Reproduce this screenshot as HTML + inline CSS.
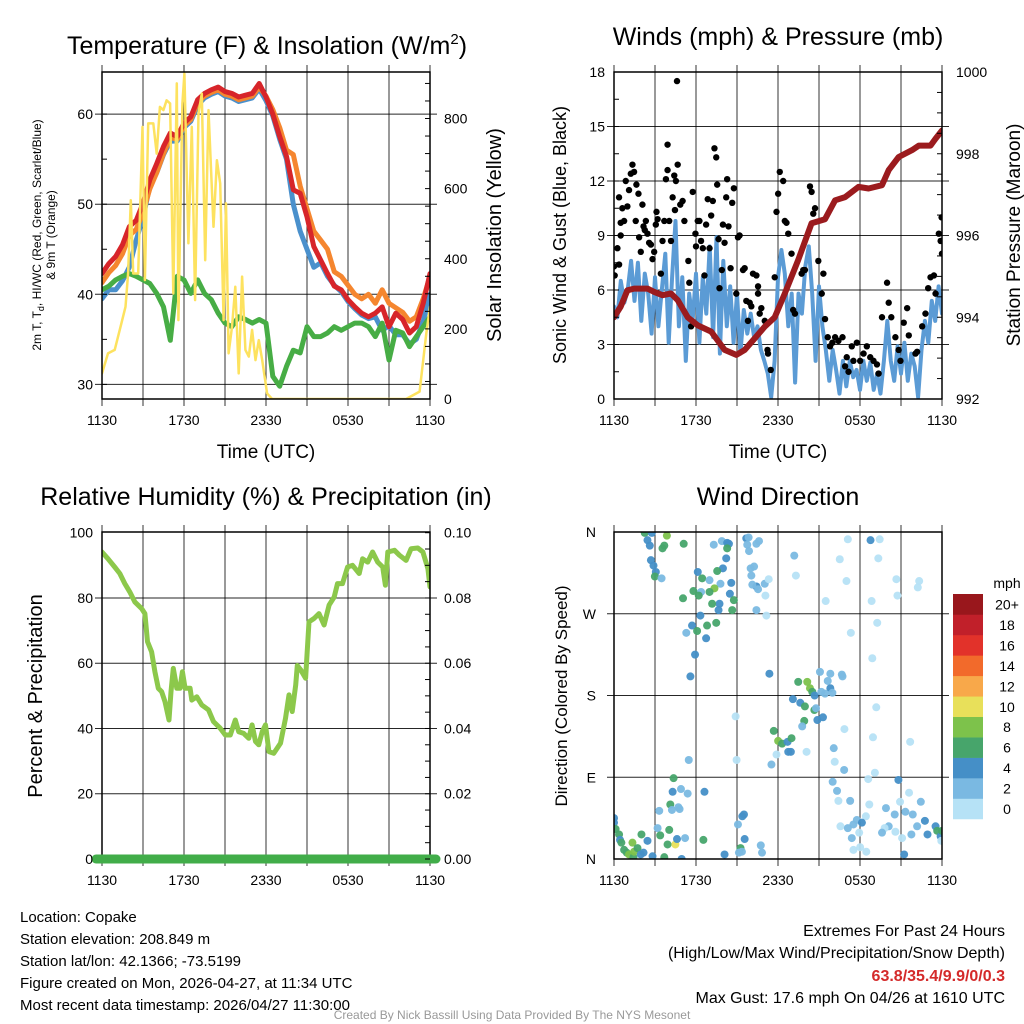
<!DOCTYPE html>
<html><head><meta charset="utf-8"><style>
html,body{margin:0;padding:0;background:#fff;}
svg{display:block;font-family:"Liberation Sans",sans-serif;}
</style></head><body>
<svg id="chart" width="1024" height="1024" viewBox="0 0 1024 1024" xmlns="http://www.w3.org/2000/svg">
<rect width="1024" height="1024" fill="#fff"/>
<g font-size="25" text-anchor="middle" fill="#000">
<text x="267" y="54">Temperature (F) &amp; Insolation (W/m<tspan dy="-10" font-size="15">2</tspan><tspan dy="10">)</tspan></text>
<text x="778" y="45">Winds (mph) &amp; Pressure (mb)</text>
<text x="266" y="505">Relative Humidity (%) &amp; Precipitation (in)</text>
<text x="778" y="505">Wind Direction</text>
</g>
<g font-size="19" text-anchor="middle">
<text x="266" y="458">Time (UTC)</text>
<text x="778" y="458">Time (UTC)</text>
</g>
<text font-size="12" text-anchor="middle" transform="translate(41,235) rotate(-90)">2m T, T<tspan dy="3" font-size="9">d</tspan><tspan dy="-3">, HI/WC (Red, Green, Scarlet/Blue)</tspan></text>
<text font-size="12" text-anchor="middle" transform="translate(55,235) rotate(-90)">&amp; 9m T (Orange)</text>
<text font-size="20" text-anchor="middle" transform="translate(501,235) rotate(-90)">Solar Insolation (Yellow)</text>
<text font-size="18" text-anchor="middle" transform="translate(566,235) rotate(-90)">Sonic Wind &amp; Gust (Blue, Black)</text>
<text font-size="19" text-anchor="middle" transform="translate(1020,235) rotate(-90)">Station Pressure (Maroon)</text>
<text font-size="20" text-anchor="middle" transform="translate(42,696) rotate(-90)">Percent &amp; Precipitation</text>
<text font-size="17" text-anchor="middle" transform="translate(567,696) rotate(-90)">Direction (Colored By Speed)</text>
<g font-size="15" fill="#000">
<text x="20" y="922">Location: Copake</text>
<text x="20" y="944">Station elevation: 208.849 m</text>
<text x="20" y="966">Station lat/lon: 42.1366; -73.5199</text>
<text x="20" y="988">Figure created on Mon, 2026-04-27, at 11:34 UTC</text>
<text x="20" y="1010">Most recent data timestamp: 2026/04/27 11:30:00</text>
</g>
<g font-size="16" text-anchor="end">
<text x="1005" y="936">Extremes For Past 24 Hours</text>
<text x="1005" y="958">(High/Low/Max Wind/Precipitation/Snow Depth)</text>
<text x="1005" y="981" fill="#d42a2a" font-weight="bold">63.8/35.4/9.9/0/0.3</text>
<text x="1005" y="1003">Max Gust: 17.6 mph On 04/26 at 1610 UTC</text>
</g>
<text x="512" y="1019" font-size="12" fill="#999" text-anchor="middle">Created By Nick Bassill Using Data Provided By The NYS Mesonet</text>
</svg>
<script>
// ---------- data ----------
const tempHours = [0,0.5,1,1.5,2,2.5,3,3.5,4,4.5,5,5.5,6,6.5,7,7.5,8,8.5,9,9.5,10,10.5,11,11.5,12,12.5,13,13.5,14,14.5,15,15.5,16,16.5,17,17.5,18,18.5,19,19.5,20,20.5,21,21.5,22,22.5,23,23.5,24];
const temp2m = [42.3,43.4,44.2,45.5,47.5,48.2,50.1,52.7,54.5,56.4,57.9,57.5,59,59.7,61.6,62.3,62.7,63,62.5,62.3,61.9,62.1,62.3,63.4,61.9,60,57.5,55.3,51.6,51.2,48.6,45.3,43.8,42.3,40.9,40.5,39.4,38.6,37.9,37.5,37.9,38.6,36.4,37.9,37.2,35.7,36.4,39,42.3];
const temp9m = [41.3,42.4,43.2,44.5,46.5,47.2,49.1,51.7,53.5,55.6,57.4,57.2,58.7,59.4,61.3,62,62.4,62.7,62.2,62,61.6,61.8,62,63,62,60.5,58.5,56,55.5,52,49.5,47,46,45,42.5,42,41,40,39.5,40,39,40.5,39,38.5,38,37,37.5,39.5,42];
const heatIndex = [39.5,40.5,40.5,41.5,43,46,48.5,52,53.5,55.5,57,57,58.5,59.2,61,61.8,62.2,62.5,62,61.8,61.4,61.6,61.8,62.8,61.5,59.8,57.2,55,50,47,45,43,43.5,42,41,40.3,39.2,38.4,37.7,37.3,37.5,36,36.5,35.5,35.5,34.5,35,37,40];
const dewPoint = [40.5,40.9,41.6,42,42.3,42,41.6,41.2,40.1,38.6,34.9,42,41.6,40.1,41.6,40.1,39.4,37.9,36.8,36.4,37.5,37.2,36.8,37.2,36.8,30.9,29.8,32,33.8,33.5,36.4,35.3,35.3,35.7,36.4,36,36.4,36.8,36.8,36.4,35.3,36.8,32.7,36,35.7,34.2,35.3,36.4,37.5];
const solarHours = [0,0.44,0.93,1.42,1.72,1.91,2.11,2.28,2.65,2.96,3.14,3.38,3.75,4,4.24,4.49,4.73,4.98,5.22,5.47,5.59,5.88,6.03,6.32,6.57,6.81,7.06,7.3,7.55,7.79,8.16,8.41,8.65,8.9,9.07,9.26,9.51,9.75,10,10.25,10.49,10.74,10.98,11.23,11.47,11.72,12.08,12.45,22.25,23.24,23.73,24];
const solarValues = [73,130,140,216,263,358,567,358,358,776,339,786,786,700,833,824,852,843,301,900,225,843,928,444,776,282,814,871,396,824,491,681,615,225,558,130,206,320,73,349,140,121,197,111,168,111,16,0,0,21,187,263];
const windHours = [0,0.25,0.5,0.75,1,1.25,1.5,1.75,2,2.25,2.5,2.75,3,3.25,3.5,3.75,4,4.25,4.5,4.75,5,5.25,5.5,5.75,6,6.25,6.5,6.75,7,7.25,7.5,7.75,8,8.25,8.5,8.75,9,9.25,9.5,9.75,10,10.25,10.5,10.75,11,11.25,11.5,11.75,12,12.25,12.5,12.75,13,13.25,13.5,13.75,14,14.25,14.5,14.75,15,15.25,15.5,15.75,16,16.25,16.5,16.75,17,17.25,17.5,17.75,18,18.25,18.5,18.75,19,19.25,19.5,19.75,20,20.25,20.5,20.75,21,21.25,21.5,21.75,22,22.25,22.5,22.75,23,23.25,23.5,23.75,24];
const windSpeed = [5.1,4.5,6.5,5.3,6,7.6,5.4,7.5,4.3,6.9,5.8,3.6,6.7,4,6,8,3.1,6.7,9.8,4,6.7,2.1,5.8,4.3,6.9,3.1,6.7,4.7,8.4,3.4,8.9,2.5,7.6,4,6.2,3.1,5.8,2.5,4.9,3.6,4.7,3.4,4,2.7,2.1,1.4,0.1,2.1,6.7,8.2,6.9,4,5.8,0.9,5.8,4.7,7.3,8.4,5.8,2.1,6.2,4,2.7,1,2.7,1.6,0.3,2.1,0.7,2.1,1.2,1.6,0.5,2.1,1,2,0.5,1.4,0.3,2.1,4.3,2.1,1,2.9,1.4,3.1,1,2.5,1.8,0.1,2.7,4.3,3.1,5.4,4.3,6.2,4.7];
const gustHours = [0,0.05,0.25,0.37,0.37,0.49,0.49,0.61,0.74,0.86,0.98,1.1,1.23,1.35,1.47,1.59,1.64,1.79,1.84,1.96,2.08,2.16,2.25,2.33,2.45,2.57,2.7,2.82,2.94,3.06,3.11,3.19,3.43,3.55,3.68,3.8,3.92,3.92,4.04,4.17,4.29,4.41,4.46,4.53,4.66,4.85,5.02,5.15,5.44,5.51,5.64,5.76,5.96,6,6.13,6.25,6.37,6.5,6.62,6.74,6.86,6.99,7.11,7.23,7.35,7.48,7.55,7.65,7.72,7.89,7.97,8.09,8.21,8.28,8.38,8.53,8.65,8.77,8.95,9.07,9.19,9.44,9.56,9.68,9.8,9.93,10.05,10.17,10.42,10.54,10.54,10.66,10.78,11.03,11.23,11.27,11.47,11.76,11.89,12.01,12.13,12.38,12.5,12.62,12.75,12.99,13.11,13.24,13.73,13.85,13.97,14.34,14.46,14.58,14.71,14.95,15.2,15.32,15.44,15.64,15.81,15.98,16.18,16.42,16.72,16.91,17.03,17.16,17.4,17.52,17.77,18.01,18.26,18.5,18.75,18.99,19.24,19.36,19.61,19.98,20.1,20.29,20.59,20.83,20.96,21.2,21.45,21.57,22.06,22.18,22.55,22.79,22.99,23.16,23.41,23.53,23.77,23.9,23.97,24,4.61];
const gustSpeed = [7.3,6.8,8.3,7.4,11.1,9,9.7,10.5,9.8,12,10.6,11.5,12.4,12.9,12.5,9.8,11.8,11.3,8.9,8.1,10.7,9.5,9.3,9.8,9.1,8.6,8.5,7.7,8.1,9.6,10.3,9.9,6.9,8.7,9.8,12.1,12.6,14,9.8,8.7,11.1,12.3,10.4,12,12.9,10.7,10.9,9.8,7.6,6.4,4,11.4,9.1,8.4,9.8,9.8,8.7,8.3,6.8,9.6,11,8.3,10.1,10.9,13.8,13.3,11.8,8.8,6.1,7.1,9.6,8.6,11.1,12.1,9.5,7.2,10.8,11.6,5.8,8.9,9,7.1,7.2,5.4,4.3,5.3,5.1,6.9,6.8,6.2,5.8,4.7,5,4.3,2.7,2.5,1.6,6.7,10.3,11.3,12.5,12,9.8,9.7,9.1,8,4.9,4.7,6.9,7.1,7.1,11.7,11.4,10.2,10.5,7.6,5.8,6.9,4.4,3.4,2.9,3.1,3.4,3.2,3.4,1.8,2.3,1.5,2.9,2.1,3.1,2.1,2.5,2.9,2.3,2.1,1.9,1.4,4.5,6.4,5.3,4.5,3.4,2.7,2.1,4.2,5,3.5,2.5,2.6,4,4.7,6.1,6.7,6.8,5.8,9.1,8.7,10,8,17.5];
const pressureHours = [0,0.49,0.98,1.47,2.45,2.94,3.55,4.17,4.66,5.39,6.13,7.11,8.09,8.95,9.56,10.29,11.03,11.76,12.5,13.48,14.46,15.44,16.18,16.91,17.89,18.63,19.61,20.1,20.83,21.81,22.3,23.16,23.53,24];
const pressureMb = [994,994.26,994.66,994.7,994.7,994.62,994.54,994.58,994.42,994,993.8,993.65,993.2,993.08,993.2,993.48,993.77,994,994.58,995.4,996.3,996.4,996.86,996.94,997.19,997.15,997.23,997.6,997.92,998.09,998.2,998.2,998.37,998.57];
const rhHours = [0,0.44,0.93,1.3,1.67,2.03,2.4,2.89,3.14,3.33,3.63,3.87,4.12,4.36,4.61,4.9,5.05,5.22,5.47,5.71,5.88,6.08,6.45,6.57,6.94,7.3,7.79,8.16,8.65,9.02,9.39,9.75,10,10.37,10.74,10.98,11.23,11.47,11.72,11.96,12.21,12.57,13.06,13.43,13.68,13.92,14.17,14.29,14.53,14.9,15.15,15.51,15.88,16.25,16.62,16.99,17.23,17.6,17.97,18.33,18.82,19.07,19.44,19.8,20.17,20.54,20.74,20.91,21.4,21.76,22.25,22.62,23.11,23.48,23.85,24];
const rhValues = [94.1,92,89.5,87.5,84.4,81.9,78.8,76.8,75.2,66.6,63.5,57.4,52.3,51.3,48.2,42.6,51.3,58.4,52.3,52.3,57.4,52.3,52.3,48.7,49.7,47.2,45.7,42.1,40.1,38,38,42.6,39,38.5,37,41.1,36,35,39,41.1,32.9,32.4,35.5,43.1,50.3,45.2,53.3,59.3,58,55.4,72.7,73.7,75.2,71.7,77.8,80.3,84.4,84.4,89.5,90,87.5,92,91,94.1,91,89.5,83.9,94.1,94.6,93.1,91.5,95.1,95.3,94.1,89,83.4];
const precipHours = [0,24];
const precipValues = [0,0];
const dirHours = [2.25,2.77,2.45,2.62,3.87,3.68,3.55,5.1,2.7,2.89,3.06,2.99,3.48,7.3,7.89,8.28,8.41,8.28,8.21,7.97,7.55,6.13,6.45,6.99,7.79,8.58,7.35,6.99,6.37,5.81,6.2,5.05,8.48,8.77,7.72,7.18,7.65,8.65,6.32,5.71,7.48,6.81,6.08,5.29,6.74,5.93,5.59,
9.68,9.85,9.75,10.42,10.61,9.88,10,10.25,10.05,10.42,10.12,10.54,11.03,11.32,11.08,10.42,11.15,13.19,13.31,17.11,18.77,19.44,16.52,19.34,17.01,15.49,20.66,22.33,22.23,20.74,18.85,19.26,17.33,18.9,
11.37,15.07,15.83,16.67,16.72,13.48,14.14,14.34,14.51,14.68,15.17,15.64,15.83,15.44,15.98,13.09,13.63,13.97,14.66,14.78,15.29,14.88,13.92,13.77,8.9,19.19,16.86,18.95,21.67,11.69,12.01,12.3,12.7,12.99,12.75,12.94,11.89,14.09,11.52,16.08,16.15,16.84,5.47,8.97,19.09,18.6,20.81,
4.36,4.29,4.9,5.39,6.62,4.12,4.8,4.71,4.24,3.31,16,16.32,16.42,17.28,18.68,21.59,20.93,22.45,19.9,20.54,21.32,21.86,17.77,18.43,16.57,17.11,17.52,18.14,20.1,19.8,19.61,20.59,21.08,21.76,22.18,22.75,22.94,23.53,23.65,23.9,24,23.95,17.94,17.4,17.52,18.01,18.46,21.23,
0,0,0.12,0.37,0.44,0.54,0.74,0.93,1.1,1.42,1.47,1.35,1.72,2.01,2.16,1.96,2.45,2.82,3.68,3.19,3.38,4.04,3.92,4.49,4.61,5.2,6.54,4.95,8.09,9.26,9.36,9.14,9.56,9.39,9.51,9.07,10.74,10.83];
const dirDegrees = [359,359,351,345,356,345,342,347,329,323,316,311,309,346,350,348,347,342,331,320,317,316,309,307,303,304,298,294,294,295,290,287,292,285,281,281,274,274,268,257,260,257,251,249,243,225,201,
353,354,346,347,350,339,320,322,312,300,302,297,303,308,290,274,268,334,312,352,351,352,330,331,306,284,308,306,299,290,284,260,249,221,
204,206,204,203,201,195,195,188,184,180,184,196,188,182,183,176,172,168,164,166,156,153,152,146,157,167,143,134,129,141,130,127,129,133,118,118,115,118,104,122,107,98,109,109,95,88,87,
89,74,77,72,74,60,55,57,54,53,85,75,64,64,60,73,63,63,56,49,52,49,43,47,36,34,38,40,36,34,29,30,23,27,36,42,27,36,31,25,31,20,29,23,10,13,8,5,
45,40,33,27,21,18,10,7,5,2,8,18,12,27,7,5,20,3,2,34,26,32,16,16,22,23,21,0,5,12,8,7,22,47,49,38,15,7];
const dirSpeeds = [7,5,5,5,9,7,7,7,5,5,5,7,3,3,3,5,5,7,5,5,7,5,7,3,3,5,9,7,3,7,7,7,5,7,5,7,5,7,5,5,7,7,7,3,5,5,5,
5,3,3,3,3,3,3,3,3,5,3,3,3,1,1,3,1,3,1,1,5,1,1,1,1,1,1,1,1,1,1,1,1,
1,5,3,3,3,3,7,9,9,7,5,3,3,5,3,3,5,5,7,7,3,5,5,7,3,1,1,1,1,1,7,9,7,5,7,5,5,1,1,3,3,1,3,3,1,1,1,
5,7,5,3,3,5,7,3,3,3,3,3,3,1,3,1,1,1,3,3,3,3,3,3,1,1,3,3,5,3,1,3,1,1,3,3,5,5,5,7,5,7,1,1,3,1,1,1,
5,5,5,7,7,5,7,7,7,9,7,9,9,7,7,5,5,5,5,7,3,7,7,7,11,5,3,7,5,5,7,3,3,5,5,5,3,3];
const speedBinColors = ["#b6e2f6","#7ab9e2","#458fc7","#47a56b","#7dc24b","#e8e05a","#f8a84a","#f26a2b","#e2322a","#c1202a","#99171c"];
const speedBinLabels = ["0","2","4","6","8","10","12","14","16","18","20+"];
const timeTickLabels = ["1130","1730","2330","0530","1130"];
const timeTickHours = [0,6,12,18,24];
const tempTicks = [30,40,50,60];
const solarTicks = [0,200,400,600,800];
const windTicks = [0,3,6,9,12,15,18];
const pressureTicks = [992,994,996,998,1000];
const rhTicks = [0,20,40,60,80,100];
const precipTicks = ["0.00","0.02","0.04","0.06","0.08","0.10"];
const dirTickLabels = ["N","E","S","W","N"];
const dirTickValues = [0,90,180,270,360];

// ---------- drawing ----------
const NS = "http://www.w3.org/2000/svg";
const svg = document.getElementById("chart");
function mk(tag, attrs, parent) {
  const e = document.createElementNS(NS, tag);
  for (const k in attrs) e.setAttribute(k, attrs[k]);
  (parent || svg).appendChild(e);
  return e;
}
function lin(d0, d1, r0, r1) { return v => r0 + (v - d0) / (d1 - d0) * (r1 - r0); }
const defs = mk("defs", {});
function panel(id, x0, x1, y0, y1) {
  const cp = mk("clipPath", {id: "clip-" + id}, defs);
  mk("rect", {x: x0, y: y0, width: x1 - x0, height: y1 - y0}, cp);
  const g = mk("g", {});
  
  
  const grid = mk("g", {stroke: "#000", "stroke-width": 1}, g);
  const data = mk("g", {"clip-path": "url(#clip-" + id + ")"}, g);
  const frame = mk("g", {}, g);
  return {g, grid, data, frame, x0, x1, y0, y1, xs: lin(0, 24, x0, x1)};
}
function vgrid(p) {
  for (let h = 0; h <= 24; h += 3) {
    const x = p.xs(h);
    const l = mk("line", {x1: x, x2: x, y1: p.y0 - 7, y2: p.y1 + 7, stroke: "#000", "stroke-opacity": 0.8}, p.grid);
    
    
  }
  timeTickLabels.forEach((lab, i) => {
    const t = mk("text", {x: p.xs(timeTickHours[i]), y: p.y1 + 26, "font-size": 14, "text-anchor": "middle"}, p.frame);
    t.textContent = lab;
    
    
  });
}
function hgrid(p, ys, vals) {
  vals.forEach(v => {
    const y = ys(v);
    const l = mk("line", {x1: p.x0 - 7, x2: p.x1 + 7, y1: y, y2: y, stroke: "#000", "stroke-opacity": 0.85}, p.grid);
    
    
  });
}
function labels(p, ys, vals, texts, side) {
  vals.forEach((v, i) => {
    const t = mk("text", {x: side === "left" ? p.x0 - 9 : p.x1 + 14, y: ys(v) + 5, "font-size": 14, "text-anchor": side === "left" ? "end" : "start"}, p.frame);
    t.textContent = texts[i];
    
    
  });
}
function minorTicks(p, ys, from, to, step, side) {
  for (let v = from; v <= to + 1e-9; v += step) {
    const y = ys(v);
    const x = side === "left" ? p.x0 : p.x1;
    const dx = side === "left" ? 5 : -5;
    mk("line", {x1: x, x2: x + dx, y1: y, y2: y, stroke: "#000"}, p.frame);
  }
}
function border(p) {
  const r = mk("rect", {x: p.x0, y: p.y0, width: p.x1 - p.x0, height: p.y1 - p.y0, fill: "none", stroke: "#000", "stroke-width": 1.5}, p.frame);
  
  
}
function line(p, xsArr, ysArr, ys, color, w, name) {
  const d = xsArr.map((h, i) => (i ? "L" : "M") + p.xs(h).toFixed(1) + "," + ys(ysArr[i]).toFixed(1)).join("");
  const e = mk("path", {d, fill: "none", stroke: color, "stroke-width": w, "stroke-linejoin": "round", "stroke-linecap": "round"}, p.data);
  
  
  return e;
}

// Panel 1: temperature
const p1 = panel("temperature", 102, 430, 72, 399);
const tY = lin(30, 60, 384.4, 114.1);
const sY = lin(0, 800, 399, 118.5);
vgrid(p1); hgrid(p1, tY, tempTicks);
line(p1, tempHours, heatIndex, tY, "#4a90cc", 5, "heat-index-line");
line(p1, tempHours, temp9m, tY, "#f5862f", 5, "temp-9m-line");
line(p1, tempHours, temp2m, tY, "#d7252a", 5, "temp-2m-line");
line(p1, tempHours, dewPoint, tY, "#47ad45", 5, "dewpoint-line");
line(p1, solarHours, solarValues, sY, "#fde25f", 2.5, "solar-line");
border(p1);
labels(p1, tY, tempTicks, tempTicks.map(String), "left");
labels(p1, sY, solarTicks, solarTicks.map(String), "right");
minorTicks(p1, tY, 30, 60, 5, "left");
minorTicks(p1, sY, 0, 900, 50, "right");

// Panel 2: winds
const p2 = panel("winds", 614, 942, 72, 399);
const wY = lin(0, 18, 399, 72);
const pY = lin(992, 1000, 399, 72);
vgrid(p2); hgrid(p2, wY, windTicks.slice(1, 6));
line(p2, windHours, windSpeed, wY, "#5b9bd5", 4, "wind-speed-line");
gustHours.forEach((h, i) => {
  const c = mk("circle", {cx: p2.xs(h), cy: wY(gustSpeed[i]), r: 3.2, fill: "#000"}, p2.data);
  
  
});
line(p2, pressureHours, pressureMb, pY, "#9b1b1e", 6, "pressure-line");
border(p2);
labels(p2, wY, windTicks, windTicks.map(String), "left");
labels(p2, pY, pressureTicks, pressureTicks.map(String), "right");
minorTicks(p2, wY, 0, 18, 1.5, "left");
minorTicks(p2, pY, 992, 1000, 0.5, "right");

// Panel 3: humidity
const p3 = panel("humidity", 102, 430, 532, 859);
const rY = lin(0, 100, 859, 532.7);
const prY = lin(0, 0.1, 859, 532.7);
vgrid(p3); hgrid(p3, rY, [20, 40, 60, 80]);
line(p3, rhHours, rhValues, rY, "#8cc84b", 5, "humidity-line");
border(p3);
const pl = line(p3, precipHours, precipValues, prY, "#41ad49", 8, "precip-line");
p3.frame.appendChild(pl);
pl.setAttribute("d", "M96," + prY(precipValues[0]) + "L436," + prY(precipValues[1]));
pl.setAttribute("stroke-width", 9);
labels(p3, rY, rhTicks, rhTicks.map(String), "left");
labels(p3, prY, [0, 0.02, 0.04, 0.06, 0.08, 0.1], precipTicks, "right");
minorTicks(p3, rY, 0, 100, 5, "right");

// Panel 4: wind direction
const p4 = panel("direction", 614, 942, 532, 859);
const dY = lin(0, 360, 859, 532);
vgrid(p4); hgrid(p4, dY, [90, 180, 270]);
dirHours.forEach((h, i) => {
  const sp = dirSpeeds[i] === undefined ? 3 : dirSpeeds[i];
  const bin = Math.min(10, Math.floor(sp / 2));
  const c = mk("circle", {cx: p4.xs(h), cy: dY(dirDegrees[i]), r: 4, fill: speedBinColors[bin] || "#7ab9e2", "fill-opacity": 0.95}, p4.data);
  
  
});
border(p4);
dirTickLabels.forEach((lab, i) => {
  const t = mk("text", {x: p4.x0 - 18, y: dY(dirTickValues[i]) + 5, "font-size": 14, "text-anchor": "end"}, p4.frame);
  t.textContent = lab;
  
  
});

// colorbar
const cb = mk("g", {});


const cbTop = 594, cbH = 20.45;
speedBinColors.forEach((c, i) => {
  const y = cbTop + (10 - i) * cbH;
  const r = mk("rect", {x: 953, y: y, width: 30, height: cbH + 0.3, fill: c}, cb);
  
  
  const t = mk("text", {x: 1007, y: y + 15.5, "font-size": 14, "text-anchor": "middle"}, cb);
  t.textContent = speedBinLabels[i];
  
  
});
const mph = mk("text", {x: 1007, y: 588, "font-size": 14, "text-anchor": "middle"}, cb);
mph.textContent = "mph";


</script>
</body></html>
